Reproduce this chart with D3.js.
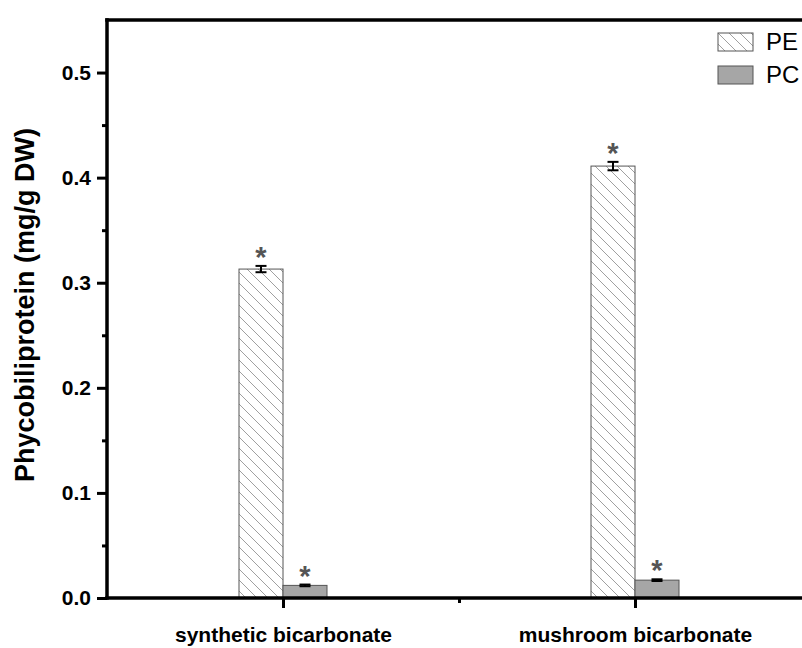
<!DOCTYPE html>
<html>
<head>
<meta charset="utf-8">
<script src="https://cdn.jsdelivr.net/npm/d3@7"></script>
<style>
  html, body { margin: 0; padding: 0; background: #fff; }
  svg { display: block; font-family: "Liberation Sans", Arial, sans-serif; }
</style>
</head>
<body>
<svg id="chart" width="802" height="648"></svg>
<script>
// Phycobiliprotein content by bicarbonate source
const categories = ["synthetic bicarbonate", "mushroom bicarbonate"];
const peValues = [0.313, 0.411];
const peErrors = [0.003, 0.004];
const pcValues = [0.012, 0.017];
const pcErrors = [0.0008, 0.0008];
const yTicks = [0.0, 0.1, 0.2, 0.3, 0.4, 0.5];
const yMinorTicks = [0.05, 0.15, 0.25, 0.35, 0.45];
const seriesNames = ["PE", "PC"];

const svg = d3.select("#chart");
const plotLeft = 107, plotRight = 811, plotTop = 20, plotBottom = 598;

const x = d3.scaleLinear().domain([0.5, categories.length + 0.5]).range([plotLeft, plotRight]);
const y = d3.scaleLinear().domain([0, 0.55]).range([plotBottom, plotTop]);
const barW = 0.125; // in category units

// hatch pattern for PE
const defs = svg.append("defs");
const hs = 11;
const pat = defs.append("pattern")
  .attr("id", "hatch").attr("patternUnits", "userSpaceOnUse")
  .attr("width", hs).attr("height", hs);
pat.append("path")
  .attr("d", `M-2,-2 L${hs + 2},${hs + 2} M-2,${hs - 2} L2,${hs + 2} M${hs - 2},-2 L${hs + 2},2`)
  .attr("stroke", "#a0a0a0").attr("stroke-width", 1).attr("fill", "none");

const series = [
  { name: "PE", values: peValues, errors: peErrors, fill: "url(#hatch)", offset: -barW },
  { name: "PC", values: pcValues, errors: pcErrors, fill: "#a6a6a6", offset: 0 }
];

// bars
series.forEach(s => {
  const g = svg.append("g");
  g.selectAll("rect").data(s.values).join("rect")
    .attr("x", (d, i) => x(i + 1 + s.offset))
    .attr("width", x(1 + barW) - x(1))
    .attr("y", d => y(d))
    .attr("height", d => y(0) - y(d))
    .attr("fill", s.fill)
    .attr("stroke", "#555").attr("stroke-width", 1);

  // error bars
  const cx = i => x(i + 1 + s.offset + barW / 2);
  const eg = svg.append("g").attr("stroke", "#000").attr("stroke-width", 2);
  s.values.forEach((v, i) => {
    const e = s.errors[i];
    eg.append("line").attr("x1", cx(i)).attr("x2", cx(i)).attr("y1", y(v - e)).attr("y2", y(v + e));
    eg.append("line").attr("x1", cx(i) - 5.5).attr("x2", cx(i) + 5.5).attr("y1", y(v + e)).attr("y2", y(v + e));
    eg.append("line").attr("x1", cx(i) - 5.5).attr("x2", cx(i) + 5.5).attr("y1", y(v - e)).attr("y2", y(v - e));
    // significance mark
    svg.append("text")
      .attr("x", cx(i)).attr("y", y(v + e) - 12 + 13)
      .attr("text-anchor", "middle")
      .attr("font-size", 29).attr("font-weight", "bold").attr("fill", "#555")
      .text("*");
  });
});

// y axis
const yAxis = svg.append("g").attr("transform", `translate(${plotLeft},0)`)
  .call(d3.axisLeft(y).tickValues(yTicks).tickFormat(d3.format(".1f"))
    .tickSize(10).tickSizeOuter(0).tickPadding(6));
svg.append("g").attr("transform", `translate(${plotLeft},0)`)
  .call(d3.axisLeft(y).tickValues(yMinorTicks).tickFormat("").tickSize(5).tickSizeOuter(0))
  .call(g => g.select(".domain").remove())
  .selectAll("line").style("stroke-width", "3px");
yAxis.select(".domain").remove();
yAxis.selectAll(".tick line").style("stroke-width", "3px");
yAxis.selectAll("text").attr("font-size", 21).attr("font-weight", "bold")
  .attr("font-family", "Liberation Sans, Arial, sans-serif").attr("fill", "#000");

// x axis
const xAxis = svg.append("g").attr("transform", `translate(0,${plotBottom})`)
  .call(d3.axisBottom(x).tickValues(categories.map((c, i) => i + 1))
    .tickFormat((d, i) => categories[i]).tickSize(10).tickSizeOuter(0));
svg.append("g").attr("transform", `translate(0,${plotBottom})`)
  .call(d3.axisBottom(x).tickValues([1.5]).tickFormat("").tickSize(5).tickSizeOuter(0))
  .call(g => g.select(".domain").remove())
  .selectAll("line").style("stroke-width", "3px");
xAxis.select(".domain").remove();
xAxis.selectAll(".tick line").style("stroke-width", "3px");
xAxis.selectAll("text").attr("font-size", 21).attr("font-weight", "bold")
  .attr("font-family", "Liberation Sans, Arial, sans-serif").attr("fill", "#000")
  .attr("y", 44).attr("dy", null);

// frame lines: left axis, bottom axis, top border
const frame = svg.append("g").attr("stroke", "#000").style("stroke-width", "3.5px");
frame.append("line").attr("x1", plotLeft).attr("x2", plotLeft).attr("y1", plotTop - 1.75).attr("y2", plotBottom + 1.75);
frame.append("line").attr("x1", plotLeft - 1.75).attr("x2", plotRight).attr("y1", plotBottom).attr("y2", plotBottom);
frame.append("line").attr("x1", plotLeft - 1.75).attr("x2", plotRight).attr("y1", plotTop).attr("y2", plotTop);

// y axis title
svg.append("text")
  .attr("transform", `translate(34,${(plotTop + plotBottom) / 2 - 4}) rotate(-90)`)
  .attr("text-anchor", "middle")
  .attr("font-size", 27).attr("font-weight", "bold")
  .text("Phycobiliprotein (mg/g DW)");

// legend
const legend = svg.append("g").attr("transform", "translate(718,33)");
series.forEach((s, i) => {
  legend.append("rect").attr("x", 0).attr("y", i * 33).attr("width", 35).attr("height", 18)
    .attr("fill", s.fill).attr("stroke", "#555").attr("stroke-width", 1);
  legend.append("text").attr("x", 48).attr("y", i * 33 + 17)
    .attr("font-size", 24).attr("fill", "#000").text(seriesNames[i]);
});
</script>
</body>
</html>
